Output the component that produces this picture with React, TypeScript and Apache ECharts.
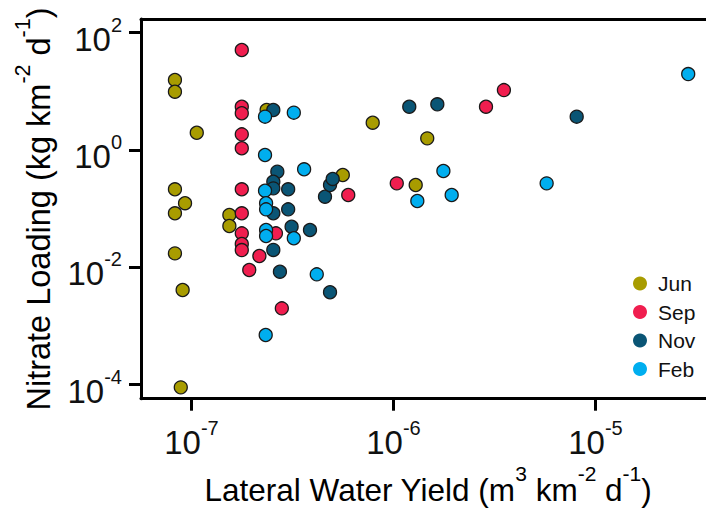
import React, { useEffect, useRef } from "react";
import * as echarts from "echarts";

// Lateral water yield (m3 km-2 d-1) and nitrate loading (kg km-2 d-1)
const junX = [8.28e-8, 8.28e-8, 1.062e-7, 8.28e-8, 9.29e-8, 8.28e-8, 8.28e-8, 9.04e-8, 8.85e-8, 1.54e-7, 1.54e-7, 2.355e-7, 7.89e-7, 1.469e-6, 5.61e-7, 1.288e-6];
const junY = [15.6, 9.86, 1.97, 0.214, 0.124, 0.0834, 0.0173, 0.00411, 9.0e-5, 0.078, 0.0507, 4.81, 2.92, 1.58, 0.375, 0.253];

const sepX = [1.774e-7, 1.774e-7, 1.774e-7, 1.774e-7, 1.774e-7, 1.774e-7, 1.774e-7, 1.774e-7, 1.774e-7, 1.774e-7, 2.618e-7, 2.168e-7, 1.932e-7, 2.8e-7, 5.97e-7, 1.038e-6, 2.87e-6, 3.52e-6];
const sepY = [50.6, 5.47, 4.23, 1.85, 1.07, 0.214, 0.0834, 0.038, 0.025, 0.0197, 0.038, 0.0156, 0.00902, 0.002, 0.171, 0.27, 5.47, 10.5];

const novX = [2.541e-7, 2.66e-7, 2.541e-7, 2.541e-7, 3.01e-7, 2.541e-7, 3.01e-7, 3.13e-7, 3.86e-7, 2.541e-7, 2.74e-7, 4.85e-7, 4.58e-7, 4.85e-7, 5.0e-7, 1.197e-6, 1.648e-6, 8.07e-6];
const novY = [4.81, 0.427, 0.288, 0.222, 0.214, 0.0834, 0.0975, 0.0493, 0.0433, 0.0198, 0.00843, 0.00376, 0.16, 0.253, 0.321, 5.47, 6.01, 3.7];

const febX = [2.312e-7, 3.21e-7, 2.312e-7, 3.61e-7, 2.312e-7, 2.34e-7, 2.34e-7, 2.34e-7, 2.34e-7, 3.21e-7, 4.17e-7, 2.33e-7, 1.766e-6, 1.312e-6, 1.941e-6, 5.73e-6, 2.877e-5];
const febY = [3.7, 4.33, 0.822, 0.469, 0.202, 0.124, 0.0975, 0.0433, 0.0342, 0.0313, 0.0076, 0.000703, 0.439, 0.135, 0.171, 0.27, 19.7];

const seriesNames = ["Jun", "Sep", "Nov", "Feb"];
const seriesX = [junX, sepX, novX, febX];
const seriesY = [junY, sepY, novY, febY];
const colors = ["#A89C00", "#F01E4F", "#0A5575", "#00AEEF"];

// tick exponents (powers of ten)
const xTicks = [-7, -6, -5];
const yTicks = [-4, -2, 0, 2];

const FONT = "'Liberation Sans', Arial, sans-serif";
const INK = "#111";

const tickRich = {
  b: { fontSize: 33, lineHeight: 33, fontFamily: FONT, color: INK, verticalAlign: "bottom" },
  sup: { fontSize: 20, lineHeight: 41, fontFamily: FONT, color: INK, verticalAlign: "top" },
};

const xTitleRich = {
  b: { fontSize: 31.5, lineHeight: 31.5, fontFamily: FONT, color: INK, verticalAlign: "bottom" },
  sup: { fontSize: 21, lineHeight: 43, fontFamily: FONT, color: INK, verticalAlign: "top" },
};

const yTitleRich = {
  b: { fontSize: 32.5, lineHeight: 32.5, fontFamily: FONT, color: INK, verticalAlign: "bottom" },
  sup: { fontSize: 21.5, lineHeight: 43, fontFamily: FONT, color: INK, verticalAlign: "top" },
};

export default function App() {
  const ref = useRef<HTMLDivElement>(null);
  useEffect(() => {
    const chart = echarts.init(ref.current!, null, { renderer: "svg" });
    const axisLineStyle = { color: "#000", width: 3 };
    const option: any = {
      animation: false,
      backgroundColor: "#fff",
      grid: { left: 141, top: 19, right: 0, bottom: 119.3, containLabel: false },
      xAxis: [
        {
          type: "value",
          position: "bottom",
          min: -7.25,
          max: -4.453,
          axisLine: { show: true, onZero: false, lineStyle: axisLineStyle },
          axisTick: { show: true, length: 12, customValues: xTicks, lineStyle: axisLineStyle },
          axisLabel: {
            show: true,
            customValues: xTicks,
            margin: 19,
            formatter: (v: number) => `{b|10}{sup|${v}}`,
            rich: tickRich,
          },
          splitLine: { show: false },
        },
        {
          type: "value",
          position: "top",
          min: -7.25,
          max: -4.453,
          axisLine: { show: true, onZero: false, lineStyle: axisLineStyle },
          axisTick: { show: false },
          axisLabel: { show: false },
          splitLine: { show: false },
        },
      ],
      yAxis: {
        type: "value",
        min: -4.239,
        max: 2.233,
        axisLine: { show: true, onZero: false, lineStyle: axisLineStyle },
        axisTick: { show: true, length: 12, customValues: yTicks, lineStyle: axisLineStyle },
        axisLabel: {
          show: true,
          customValues: yTicks,
          margin: 19,
          padding: [5, 0, 0, 0],
          formatter: (v: number) => `{b|10}{sup|${v}}`,
          rich: tickRich,
        },
        splitLine: { show: false },
      },
      legend: {
        data: seriesNames,
        orient: "vertical",
        left: 628,
        top: 268,
        icon: "circle",
        itemWidth: 26,
        itemHeight: 14,
        itemGap: 7.5,
        itemStyle: { borderWidth: 0 },
        textStyle: { fontSize: 21, lineHeight: 21, fontFamily: FONT, color: INK },
      },
      graphic: [
        {
          type: "text",
          x: 428,
          y: 506,
          style: {
            text: "{b|Lateral Water Yield (m}{sup|3}{b| km}{sup|-2}{b| d}{sup|-1}{b|)}",
            rich: xTitleRich,
            align: "center",
            verticalAlign: "bottom",
          },
        },
        {
          type: "text",
          x: 55,
          y: 209,
          rotation: Math.PI / 2,
          style: {
            text: "{b|Nitrate Loading (kg km}{sup|-2}{b| d}{sup|-1}{b|)}",
            rich: yTitleRich,
            align: "center",
            verticalAlign: "bottom",
          },
        },
      ],
      series: seriesNames.map((name, i) => ({
        name,
        type: "scatter",
        xAxisIndex: 0,
        symbol: "circle",
        symbolSize: 13,
        itemStyle: { color: colors[i], borderColor: "#1a1a1a", borderWidth: 1.3, opacity: 1 },
        emphasis: { disabled: true },
        data: seriesX[i].map((x, j) => [Math.log10(x), Math.log10(seriesY[i][j])]),
      })),
    };
    chart.setOption(option);
    return () => chart.dispose();
  }, []);
  return <div ref={ref} style={{ position: "fixed", left: 0, top: 0, width: 706, height: 518 }} />;
}
